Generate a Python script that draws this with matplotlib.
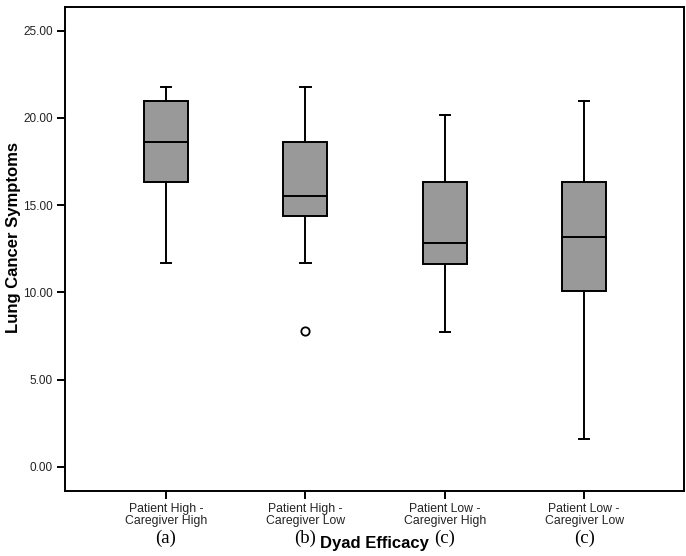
import matplotlib.pyplot as plt
import matplotlib.transforms as mtransforms

# values (SPSS style boxplot)
groups = ["Patient High -\nCaregiver High", "Patient High -\nCaregiver Low",
          "Patient Low -\nCaregiver High", "Patient Low -\nCaregiver Low"]
letters = ["(a)", "(b)", "(c)", "(c)"]
whisker_lo = [11.67, 11.67, 7.75, 1.59]
q1 = [16.32, 14.38, 11.65, 10.10]
median = [18.64, 15.53, 12.84, 13.20]
q3 = [20.97, 18.64, 16.32, 16.32]
whisker_hi = [21.76, 21.76, 20.19, 20.96]
outliers = [[], [7.81], [], []]
yticks = [0, 5, 10, 15, 20, 25]

plt.rcParams['font.family'] = ['Liberation Sans', 'DejaVu Sans']

fig = plt.figure(figsize=(6.86, 5.56), dpi=100)
ax = fig.add_axes([0.0952, 0.1178, 0.9026, 0.8691])

stats = []
for i in range(len(groups)):
    stats.append({
        "whislo": whisker_lo[i], "q1": q1[i], "med": median[i],
        "q3": q3[i], "whishi": whisker_hi[i], "fliers": outliers[i],
    })

lw = 1.4
ax.bxp(stats, positions=range(len(groups)), widths=0.316, patch_artist=True,
       capwidths=0.075,
       boxprops=dict(facecolor="#999999", edgecolor="black", linewidth=lw),
       medianprops=dict(color="black", linewidth=lw),
       whiskerprops=dict(color="black", linewidth=lw),
       capprops=dict(color="black", linewidth=lw),
       flierprops=dict(marker="o", markerfacecolor="white", markeredgecolor="black",
                       markersize=6, markeredgewidth=1.3))

ax.set_xlim(-0.722, 3.72)
ax.set_ylim(-1.35, 26.34)
ax.set_yticks(yticks)
ax.set_yticklabels(["%.2f" % v for v in yticks], fontsize=8.5, color="#222222")
ax.set_xticks(range(len(groups)))
ax.set_xticklabels(groups, fontsize=8.8, linespacing=0.95, color="#222222")
ax.tick_params(axis="both", direction="out", length=6, width=1.4, color="black", pad=3)

for s in ax.spines.values():
    s.set_linewidth(1.4)
    s.set_color("black")

# significance letters under each group
trans = mtransforms.blended_transform_factory(ax.transData, fig.transFigure)
for i, lt in enumerate(letters):
    ax.text(i, 0.0324, lt, transform=trans, ha="center", va="center",
            fontsize=13.5, family=["Liberation Serif", "DejaVu Serif"])

ax.set_xlabel("Dyad Efficacy", fontsize=12, fontweight="bold")
ax.xaxis.label.set_va("center")
ax.xaxis.set_label_coords(0.5, -0.1107)
ax.set_ylabel("Lung Cancer Symptoms", fontsize=12, fontweight="bold")
ax.yaxis.label.set_va("center")
ax.yaxis.set_label_coords(-0.084, 0.5226)

fig.savefig("out.png", dpi=100)
